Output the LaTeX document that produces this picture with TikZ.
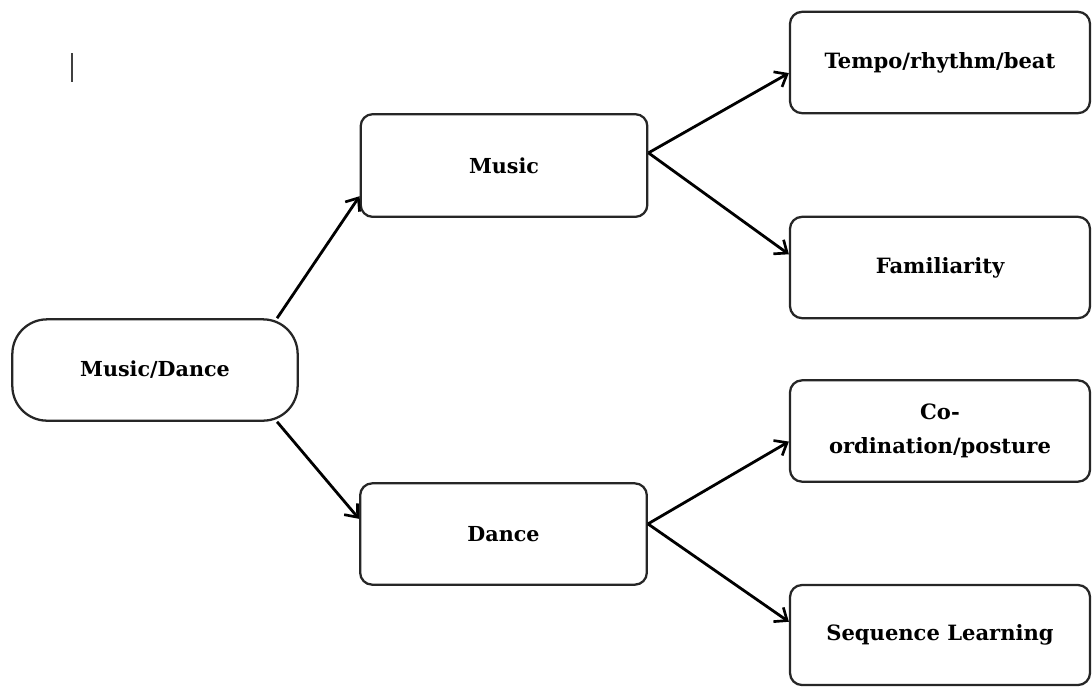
\documentclass[tikz,border=0pt]{standalone}
\usepackage{fontspec}
\setmainfont{DejaVu Serif}
\usetikzlibrary{arrows.meta}
\begin{document}
\begin{tikzpicture}[x=0.75pt,y=-0.75pt,
  box/.style={draw=black!85, line width=1.7pt, rounded corners=9pt, fill=white,
    align=center, inner sep=0pt, font=\bfseries\fontsize{15.5}{19}\selectfont},
  rbox/.style={box, minimum width=225pt, font=\bfseries\fontsize{15.8}{19}\selectfont},
  bigbox/.style={box, rounded corners=26pt},
  conn/.style={line width=2.1pt, -{Straight Barb[length=8pt,width=13pt,line width=2pt]}}]
\useasboundingbox (0,0) rectangle (1092,687);
\draw[black!75, line width=2.2pt] (72,53) -- (72,82);
\node[bigbox, minimum width=214pt, minimum height=76pt] (md) at (155,370) {Music/Dance};
\node[box, minimum width=215pt, minimum height=77pt] (music) at (504,165.5) {Music};
\node[box, minimum width=215pt, minimum height=76pt] (dance) at (503.5,534) {Dance};
\node[rbox, minimum height=76pt] (tempo) at (940,62.5) {Tempo/rhythm/beat};
\node[rbox, minimum height=76pt] (fam) at (940,267.5) {Familiarity};
\node[rbox, minimum height=76pt, font=\bfseries\fontsize{15.8}{26}\selectfont] (coord) at (940,431) {Co-\\ordination/posture};
\node[rbox, minimum height=75pt] (seq) at (940,635) {Sequence Learning};
\draw[conn] (md.23) -- (music.192.7);
\draw[conn] (md.-23) -- (dance.174.5);
\draw[conn] (music.5) -- (tempo.184.8);
\draw[conn] (music.5) -- (fam.175.2);
\draw[conn] (dance.4.4) -- (coord.184.5);
\draw[conn] (dance.4.4) -- (seq.175.5);
\end{tikzpicture}
\end{document}
